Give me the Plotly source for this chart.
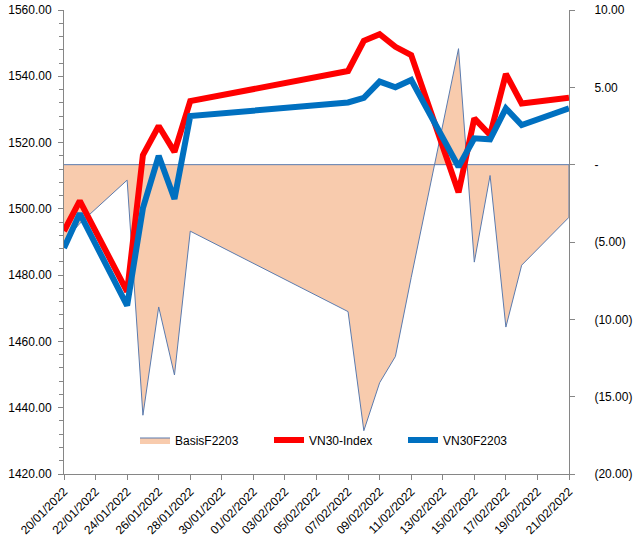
import plotly.graph_objects as go

dates = ["2022-01-20", "2022-01-21", "2022-01-24", "2022-01-25", "2022-01-26",
         "2022-01-27", "2022-01-28", "2022-02-07", "2022-02-08", "2022-02-09",
         "2022-02-10", "2022-02-11", "2022-02-14", "2022-02-15", "2022-02-16",
         "2022-02-17", "2022-02-18", "2022-02-21"]
vn30_index = [1493.3, 1502.4, 1475.0, 1516.2, 1525.0, 1517.2, 1532.5, 1541.6, 1550.7,
              1552.7, 1548.9, 1546.4, 1505.0, 1527.3, 1522.3, 1540.7, 1531.8, 1533.5]
vn30f2203 = [1488.2, 1498.6, 1470.8, 1500.2, 1516.0, 1503.0, 1528.0, 1532.1, 1533.5,
             1538.4, 1536.7, 1538.9, 1512.7, 1521.3, 1521.0, 1530.3, 1525.3, 1530.3]
basis = [-5.0, -3.8, -1.0, -16.2, -9.2, -13.6, -4.3, -9.5, -17.2,
         -14.1, -12.4, -7.3, 7.5, -6.3, -0.7, -10.5, -6.5, -3.4]

left_ticks = [1420, 1440, 1460, 1480, 1500, 1520, 1540, 1560]
right_ticks = [-20, -15, -10, -5, 0, 5, 10]
right_labels = ["(20.00)", "(15.00)", "(10.00)", "(5.00)", "-", "5.00", "10.00"]

FONT = "Liberation Sans"
AX = "#868686"

fig = go.Figure()
# Basis area on the base (right-side) axis so the lines on the overlay axis draw above it
fig.add_trace(go.Scatter(
    x=dates + [dates[-1], dates[0]], y=basis + [0, 0], yaxis="y",
    mode="lines", fill="toself", fillcolor="#F8CBAD",
    line=dict(color="#5B7BAE", width=1), name="BasisF2203"))
fig.add_trace(go.Scatter(
    x=dates, y=vn30_index, mode="lines", name="VN30-Index", yaxis="y2",
    line=dict(color="#FF0000", width=6)))
fig.add_trace(go.Scatter(
    x=dates, y=vn30f2203, mode="lines", name="VN30F2203", yaxis="y2",
    line=dict(color="#0070C0", width=6)))

fig.update_layout(
    width=635, height=544,
    margin=dict(l=64, r=66, t=10, b=70, autoexpand=False),
    paper_bgcolor="white", plot_bgcolor="white",
    font=dict(family=FONT, size=12, color="#000000"),
    showlegend=True,
    legend=dict(orientation="h", x=(135 - 64) / 505, xanchor="left",
                y=(474 - 440) / 464, yanchor="middle",
                bgcolor="rgba(0,0,0,0)", entrywidth=89, entrywidthmode="pixels",
                font=dict(family=FONT, size=12), tracegroupgap=0),
    xaxis=dict(type="date", range=["2022-01-20", "2022-02-21"], automargin=False,
               tick0="2022-01-20", dtick=2 * 86400000, tickformat="%d/%m/%Y",
               tickangle=-45, ticks="outside", ticklen=5, tickcolor=AX,
               showline=True, linecolor=AX, linewidth=1, showgrid=False,
               zeroline=False, tickfont=dict(family=FONT, size=12)),
    yaxis=dict(range=[-20, 10], side="right", anchor="x", automargin=False,
               tickvals=right_ticks, ticktext=right_labels,
               ticks="outside", ticklen=5, tickcolor=AX, showline=True,
               linecolor=AX, linewidth=1, showgrid=False, zeroline=False,
               ticklabelstandoff=17, tickfont=dict(family=FONT, size=12)),
    yaxis2=dict(range=[1420, 1560], overlaying="y", side="left", anchor="x",
                automargin=False, tickvals=left_ticks, tickformat=".2f",
                ticks="outside", ticklen=5, tickcolor=AX, showline=True,
                linecolor=AX, linewidth=1, showgrid=False, zeroline=False,
                ticklabelstandoff=4,
                minor=dict(dtick=4, ticks="outside", ticklen=4, tickcolor=AX, showgrid=False),
                tickfont=dict(family=FONT, size=12)),
)

fig.write_html("out.html")
